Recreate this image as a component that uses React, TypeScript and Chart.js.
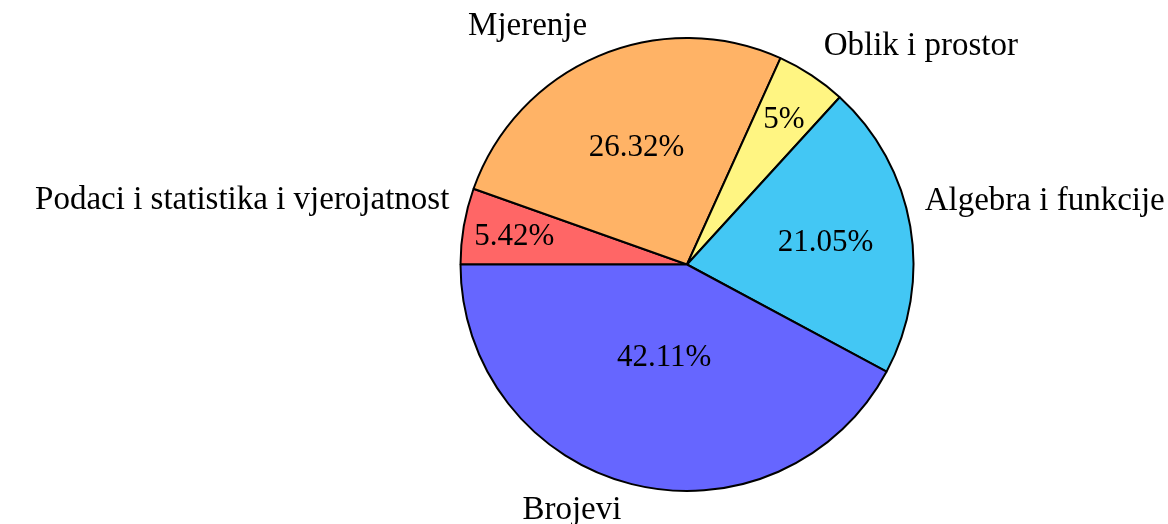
import React, { useEffect, useRef } from "react";
import { Chart, registerables } from "chart.js";

Chart.register(...registerables);

// Slices in drawing order (counter-clockwise from the left, as in the source)
const categories = [
  "Brojevi",
  "Algebra i funkcije",
  "Oblik i prostor",
  "Mjerenje",
  "Podaci i statistika i vjerojatnost",
];
const values = [42.11, 21.05, 5, 26.32, 5.42];
const colors = ["#6666ff", "#43c7f4", "#fff582", "#ffb366", "#ff6666"];

const LABEL_FONT = '33px "Liberation Serif", "Times New Roman", serif';
const PCT_FONT = '31px "Liberation Serif", "Times New Roman", serif';

const pieLabels = {
  id: "pieLabels",
  afterDatasetsDraw(chart: any) {
    const ctx = chart.ctx;
    const meta = chart.getDatasetMeta(0);
    const labels: string[] = chart.data.labels;
    const data: number[] = chart.data.datasets[0].data;
    ctx.save();
    ctx.fillStyle = "#000";
    meta.data.forEach((arc: any, i: number) => {
      const p = arc.getProps(["x", "y", "startAngle", "endAngle", "outerRadius"], true);
      const mid = (p.startAngle + p.endAngle) / 2;
      const c = Math.cos(mid);
      const s = Math.sin(mid);
      const R = p.outerRadius;
      // percentage inside
      const spanDeg = ((p.endAngle - p.startAngle) * 180) / Math.PI;
      const k = Math.max(Math.min(((spanDeg - 10) / 110) * -0.3, 0), -0.5) + 0.8;
      ctx.font = PCT_FONT;
      ctx.textAlign = "center";
      ctx.textBaseline = "alphabetic";
      const px = p.x + k * R * c;
      const py = p.y + k * R * s;
      ctx.fillText(String(data[i]) + "%", px, py + 10.5);
      // outside label
      const r2 = R + 5.5;
      const lx = p.x + r2 * c;
      const ly = p.y + r2 * s;
      ctx.font = LABEL_FONT;
      ctx.textAlign = c < 0 ? "right" : "left";
      const tx = c < 0 ? lx - 9 : lx + 9;
      const ty = s < 0 ? ly - 16 : ly + 30;
      ctx.fillText(labels[i], tx, ty);
    });
    ctx.restore();
  },
};

export default function App() {
  const ref = useRef<HTMLCanvasElement | null>(null);
  useEffect(() => {
    if (!ref.current) return;
    const order = values.map((_, i) => i).reverse();
    const chart = new Chart(ref.current, {
      type: "pie",
      data: {
        labels: order.map((i) => categories[i]),
        datasets: [
          {
            data: order.map((i) => values[i]),
            backgroundColor: order.map((i) => colors[i]),
            borderColor: "#000",
            borderWidth: 2,
            hoverBorderWidth: 2,
            hoverOffset: 0,
            offset: 0,
          },
        ],
      },
      options: {
        responsive: false,
        animation: false,
        events: [],
        rotation: -90,
        layout: { padding: { left: 459, right: 253, top: 37, bottom: 32 } },
        plugins: {
          legend: { display: false },
          tooltip: { enabled: false },
        },
      },
      plugins: [pieLabels],
    });
    return () => chart.destroy();
  }, []);
  return (
    <div style={{ position: "fixed", left: 0, top: 0, width: 1168, height: 524, background: "#fff" }}>
      <canvas ref={ref} width={1168} height={524} style={{ display: "block" }} />
    </div>
  );
}
